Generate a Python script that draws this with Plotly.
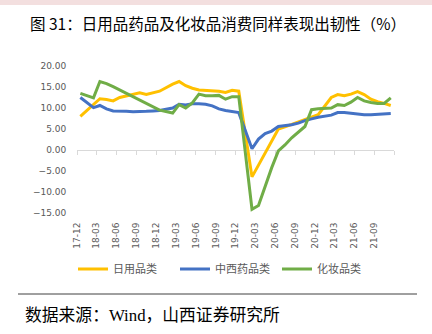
import plotly.graph_objects as go

# ---------------- data ----------------
MONTHS = [
    "2017-12",
    "2018-02", "2018-03", "2018-04", "2018-05", "2018-06", "2018-07", "2018-08", "2018-09", "2018-10", "2018-11", "2018-12",
    "2019-02", "2019-03", "2019-04", "2019-05", "2019-06", "2019-07", "2019-08", "2019-09", "2019-10", "2019-11", "2019-12",
    "2020-02", "2020-03", "2020-04", "2020-05", "2020-06", "2020-07", "2020-08", "2020-09", "2020-10", "2020-11", "2020-12",
    "2021-02", "2021-03", "2021-04", "2021-05", "2021-06", "2021-07", "2021-08", "2021-09", "2021-10", "2021-11",
]
DAILY = [
    8.0,
    10.9, 12.2, 12.0, 11.7, 12.5, 12.9, 13.3, 13.6, 13.2, 13.6, 14.0,
    15.7, 16.3, 15.3, 14.7, 14.3, 14.2, 14.1, 14.0, 13.7, 14.2, 14.0,
    -6.4, -3.6, -0.7, 2.2, 5.0, 5.5, 6.1, 6.8, 7.3, 7.8, 8.4,
    12.5, 13.2, 12.9, 13.3, 13.9, 13.2, 12.1, 11.5, 11.1, 10.6,
]
MEDICINE = [
    12.5,
    10.1, 10.6, 9.8, 9.3, 9.3, 9.2, 9.1, 9.1, 9.2, 9.3, 9.4,
    10.0, 10.9, 10.7, 11.0, 11.0, 10.9, 10.5, 9.8, 9.4, 9.1, 8.9,
    0.3, 2.6, 3.9, 4.5, 5.6, 5.8, 6.0, 6.4, 7.0, 7.4, 7.8,
    8.3, 8.9, 8.9, 8.7, 8.6, 8.4, 8.4, 8.5, 8.6, 8.7,
]
COSMETICS = [
    13.5,
    12.4, 16.3, 15.8, 15.1, 14.3, 13.4, 12.6, 11.8, 11.0, 10.2, 9.5,
    8.8, 10.8, 10.0, 11.2, 13.3, 12.9, 12.9, 13.0, 12.1, 12.7, 12.7,
    -14.1, -13.2, -8.5, -4.2, -0.2, 1.2, 2.9, 4.2, 5.6, 9.6, 9.8,
    10.0, 10.8, 10.6, 11.4, 12.5, 11.7, 11.3, 11.1, 11.1, 12.4,
]
SERIES_NAMES = ["日用品类", "中西药品类", "化妆品类"]
TICK_LABELS = ["17-12", "18-03", "18-06", "18-09", "18-12", "19-03", "19-06", "19-09",
               "19-12", "20-03", "20-06", "20-09", "20-12", "21-03", "21-06", "21-09"]
X_START, X_END = "2017-12", "2021-12"
Y_MIN, Y_MAX, Y_STEP = -15, 20, 5
TITLE = "图 31：日用品药品及化妆品消费同样表现出韧性（%）"
SOURCE = "数据来源：Wind，山西证券研究所"

# ---------------- style / layout ----------------
COLORS = ["#FFC000", "#4472C4", "#70AD47"]
W, H = 432, 334
L, R, T, B = 77, 38, 66, 121
PW, PH = W - L - R, H - T - B
GRAY = "#595959"
AXIS_GRAY = "#d9d9d9"
CJK = "Noto Sans CJK SC"


def px_x(px):
    return (px - L) / PW


def px_y(py):
    return 1 - (py - T) / PH


tick_vals = [("20" + t[:2] + "-" + t[3:] + "-01") for t in TICK_LABELS] + [X_END + "-01"]
tick_text = TICK_LABELS + [""]

fig = go.Figure()
for name, vals, col in zip(SERIES_NAMES, [DAILY, MEDICINE, COSMETICS], COLORS):
    fig.add_trace(go.Scatter(
        x=MONTHS, y=vals, name=name, mode="lines",
        xperiod="M1", xperiodalignment="middle",
        line=dict(color=col, width=3), hoverinfo="skip",
    ))
# reference the label axis so it is drawn
fig.add_trace(go.Scatter(x=MONTHS, y=[None] * len(MONTHS), xaxis="x2",
                         showlegend=False, hoverinfo="skip", mode="lines"))

zero_pos = (0 - Y_MIN) / (Y_MAX - Y_MIN)
common_x = dict(type="date", range=[X_START + "-01", X_END + "-01"],
                tickvals=tick_vals, ticktext=tick_text, showgrid=False, zeroline=False)

fig.update_layout(
    width=W, height=H, autosize=False,
    margin=dict(l=L, r=R, t=T, b=B, pad=0),
    paper_bgcolor="white", plot_bgcolor="white",
    font=dict(family="DejaVu Sans", size=9, color=GRAY),
    xaxis=dict(**common_x, anchor="free", position=zero_pos,
               showline=True, linecolor=AXIS_GRAY, linewidth=1,
               ticks="outside", ticklen=4, tickcolor=AXIS_GRAY, tickwidth=1,
               showticklabels=False, layer="below traces"),
    xaxis2=dict(**common_x, overlaying="x", anchor="y", side="bottom",
                showline=False, ticks="outside", ticklen=5, tickcolor="rgba(0,0,0,0)",
                tickangle=-90, tickfont=dict(family="DejaVu Sans", size=9, color=GRAY)),
    yaxis=dict(range=[Y_MIN, Y_MAX], dtick=Y_STEP, tick0=0, tickformat=".2f",
               showgrid=False, zeroline=False, showline=False,
               ticks="outside", ticklen=8, tickcolor="rgba(0,0,0,0)",
               tickfont=dict(family="DejaVu Sans", size=9, color=GRAY)),
    showlegend=True,
    legend=dict(orientation="h", x=px_x(73), xanchor="left", y=px_y(269), yanchor="middle",
                font=dict(family=CJK, size=11, color=GRAY), bgcolor="rgba(0,0,0,0)",
                itemwidth=30, entrywidth=57, entrywidthmode="pixels"),
    annotations=[
        dict(text=TITLE, xref="paper", yref="paper", x=px_x(28), y=px_y(22.5),
             xanchor="left", yanchor="middle", showarrow=False,
             font=dict(family=CJK, size=15.5, color="black")),
        dict(text=SOURCE, xref="paper", yref="paper", x=px_x(23), y=px_y(315),
             xanchor="left", yanchor="middle", showarrow=False,
             font=dict(family="Liberation Serif, " + CJK, size=16.8, color="black")),
    ],
    shapes=[
        dict(type="rect", xref="paper", yref="paper", x0=px_x(-5), x1=px_x(W + 5),
             y0=px_y(5), y1=px_y(-5), fillcolor="#f3dfdf", line=dict(width=0), layer="below"),
        dict(type="line", xref="paper", yref="paper", x0=px_x(18), x1=px_x(417),
             y0=px_y(294), y1=px_y(294), line=dict(color="#404040", width=1)),
    ],
)

fig.write_html("out.html")
